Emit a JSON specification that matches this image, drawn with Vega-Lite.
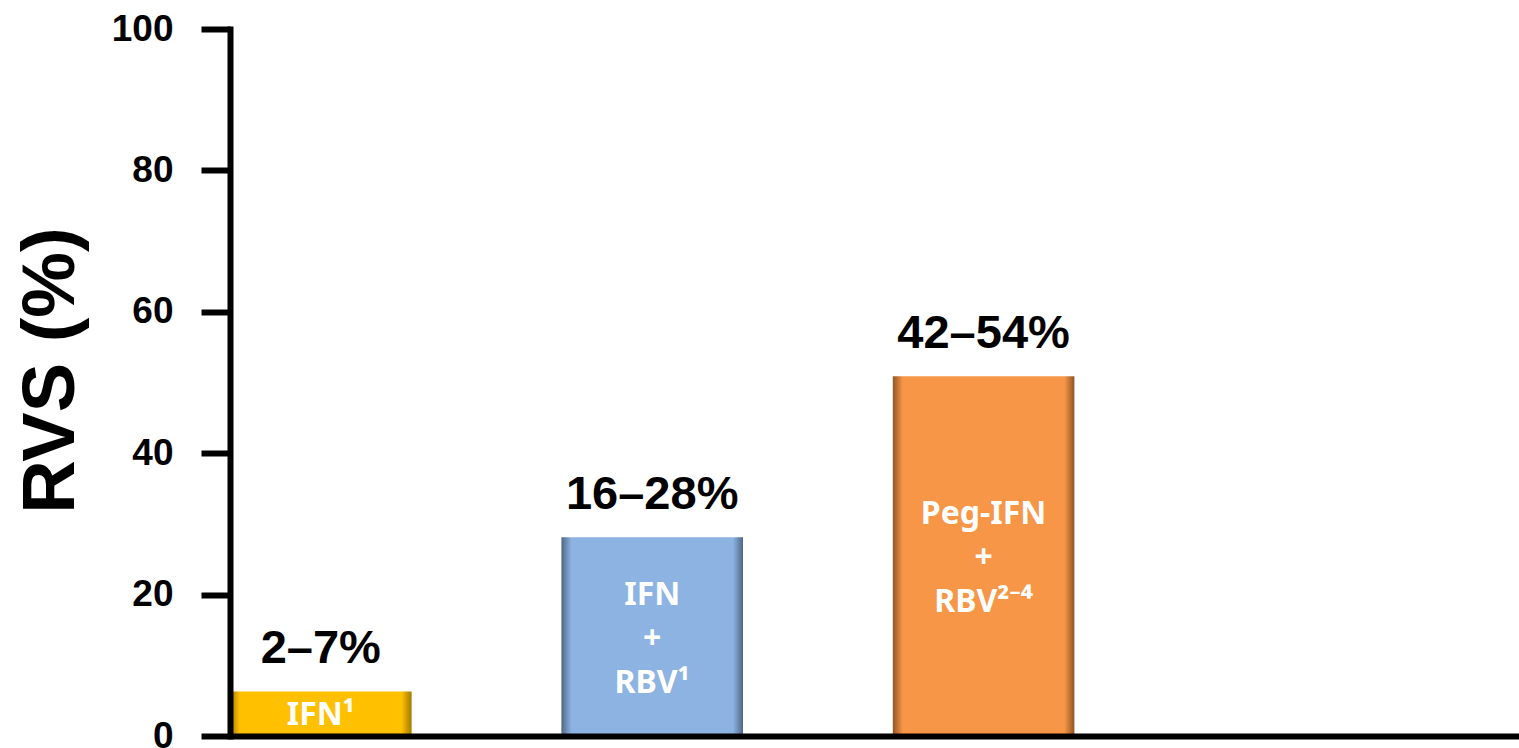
{
  "$schema": "https://vega.github.io/schema/vega-lite/v6.json",
  "width": 1289,
  "height": 707,
  "autosize": {"type": "none"},
  "padding": {"left": 230, "top": 29, "right": 0, "bottom": 12},
  "background": "white",
  "config": {"view": {"stroke": null}, "font": "Liberation Sans"},
  "data": {
    "values": [
      {"treatment": "IFN", "v": 6.3, "range": "2–7%", "inner": ["IFN¹"], "lines": 1},
      {"treatment": "IFN + RBV", "v": 28.1, "range": "16–28%", "inner": ["IFN", "+", "RBV¹"], "lines": 3},
      {"treatment": "Peg-IFN + RBV", "v": 50.9, "range": "42–54%", "inner": ["Peg-IFN", "+", "RBV²⁻⁴"], "lines": 3}
    ]
  },
  "encoding": {
    "x": {
      "field": "treatment",
      "type": "nominal",
      "sort": null,
      "scale": {"paddingInner": 0.452, "paddingOuter": 0.6708, "align": 0},
      "axis": {
        "title": null,
        "labels": false,
        "ticks": false,
        "domainColor": "black",
        "domainWidth": 6,
        "zindex": 1
      }
    },
    "y": {
      "field": "v",
      "type": "quantitative",
      "scale": {"domain": [0, 100], "nice": false, "zero": true},
      "axis": {
        "values": [0, 20, 40, 60, 80, 100],
        "grid": false,
        "domainColor": "black",
        "domainWidth": 6,
        "domainCap": "square",
        "tickColor": "black",
        "tickWidth": 6,
        "tickSize": 29,
        "labelFontSize": 37,
        "labelFontWeight": "bold",
        "labelColor": "black",
        "labelPadding": 28,
        "labelFont": "Liberation Sans",
        "title": "RVS (%)",
        "titleFontSize": 74,
        "titleFontWeight": "bold",
        "titleColor": "black",
        "titleAngle": -90,
        "titleX": -157,
        "titleY": 341,
        "titleAlign": "center",
        "titleBaseline": "alphabetic",
        "zindex": 1
      }
    }
  },
  "layer": [
    {
      "transform": [{"filter": "datum.treatment === 'IFN'"}],
      "mark": {
        "type": "bar",
        "fill": {
          "gradient": "linear", "x1": 0, "x2": 1, "y1": 0, "y2": 0,
          "stops": [
            {"offset": 0, "color": "#a07a00"},
            {"offset": 0.055, "color": "#ffc000"},
            {"offset": 0.945, "color": "#ffc000"},
            {"offset": 1, "color": "#a07a00"}
          ]
        }
      }
    },
    {
      "transform": [{"filter": "datum.treatment === 'IFN + RBV'"}],
      "mark": {
        "type": "bar",
        "fill": {
          "gradient": "linear", "x1": 0, "x2": 1, "y1": 0, "y2": 0,
          "stops": [
            {"offset": 0, "color": "#4f6788"},
            {"offset": 0.055, "color": "#8db3e2"},
            {"offset": 0.945, "color": "#8db3e2"},
            {"offset": 1, "color": "#4f6788"}
          ]
        }
      }
    },
    {
      "transform": [{"filter": "datum.treatment === 'Peg-IFN + RBV'"}],
      "mark": {
        "type": "bar",
        "fill": {
          "gradient": "linear", "x1": 0, "x2": 1, "y1": 0, "y2": 0,
          "stops": [
            {"offset": 0, "color": "#8f5526"},
            {"offset": 0.055, "color": "#f79646"},
            {"offset": 0.945, "color": "#f79646"},
            {"offset": 1, "color": "#8f5526"}
          ]
        }
      }
    },
    {
      "mark": {
        "type": "text",
        "fontSize": 47,
        "fontWeight": "bold",
        "color": "black",
        "baseline": "alphabetic",
        "dy": -28
      },
      "encoding": {"text": {"field": "range"}}
    },
    {
      "transform": [
        {"filter": "datum.lines === 1"},
        {"calculate": "datum.v / 2", "as": "mid"}
      ],
      "mark": {
        "type": "text",
        "font": "Noto Sans",
        "fontSize": 32,
        "fontWeight": "bold",
        "color": "white",
        "baseline": "middle",
        "dy": 1
      },
      "encoding": {
        "y": {"field": "mid", "type": "quantitative"},
        "text": {"field": "inner"}
      }
    },
    {
      "transform": [
        {"filter": "datum.lines === 3"},
        {"calculate": "datum.v / 2", "as": "mid"}
      ],
      "mark": {
        "type": "text",
        "font": "Noto Sans",
        "fontSize": 32,
        "fontWeight": "bold",
        "color": "white",
        "baseline": "middle",
        "lineHeight": 44,
        "dy": -42
      },
      "encoding": {
        "y": {"field": "mid", "type": "quantitative"},
        "text": {"field": "inner"}
      }
    }
  ]
}
